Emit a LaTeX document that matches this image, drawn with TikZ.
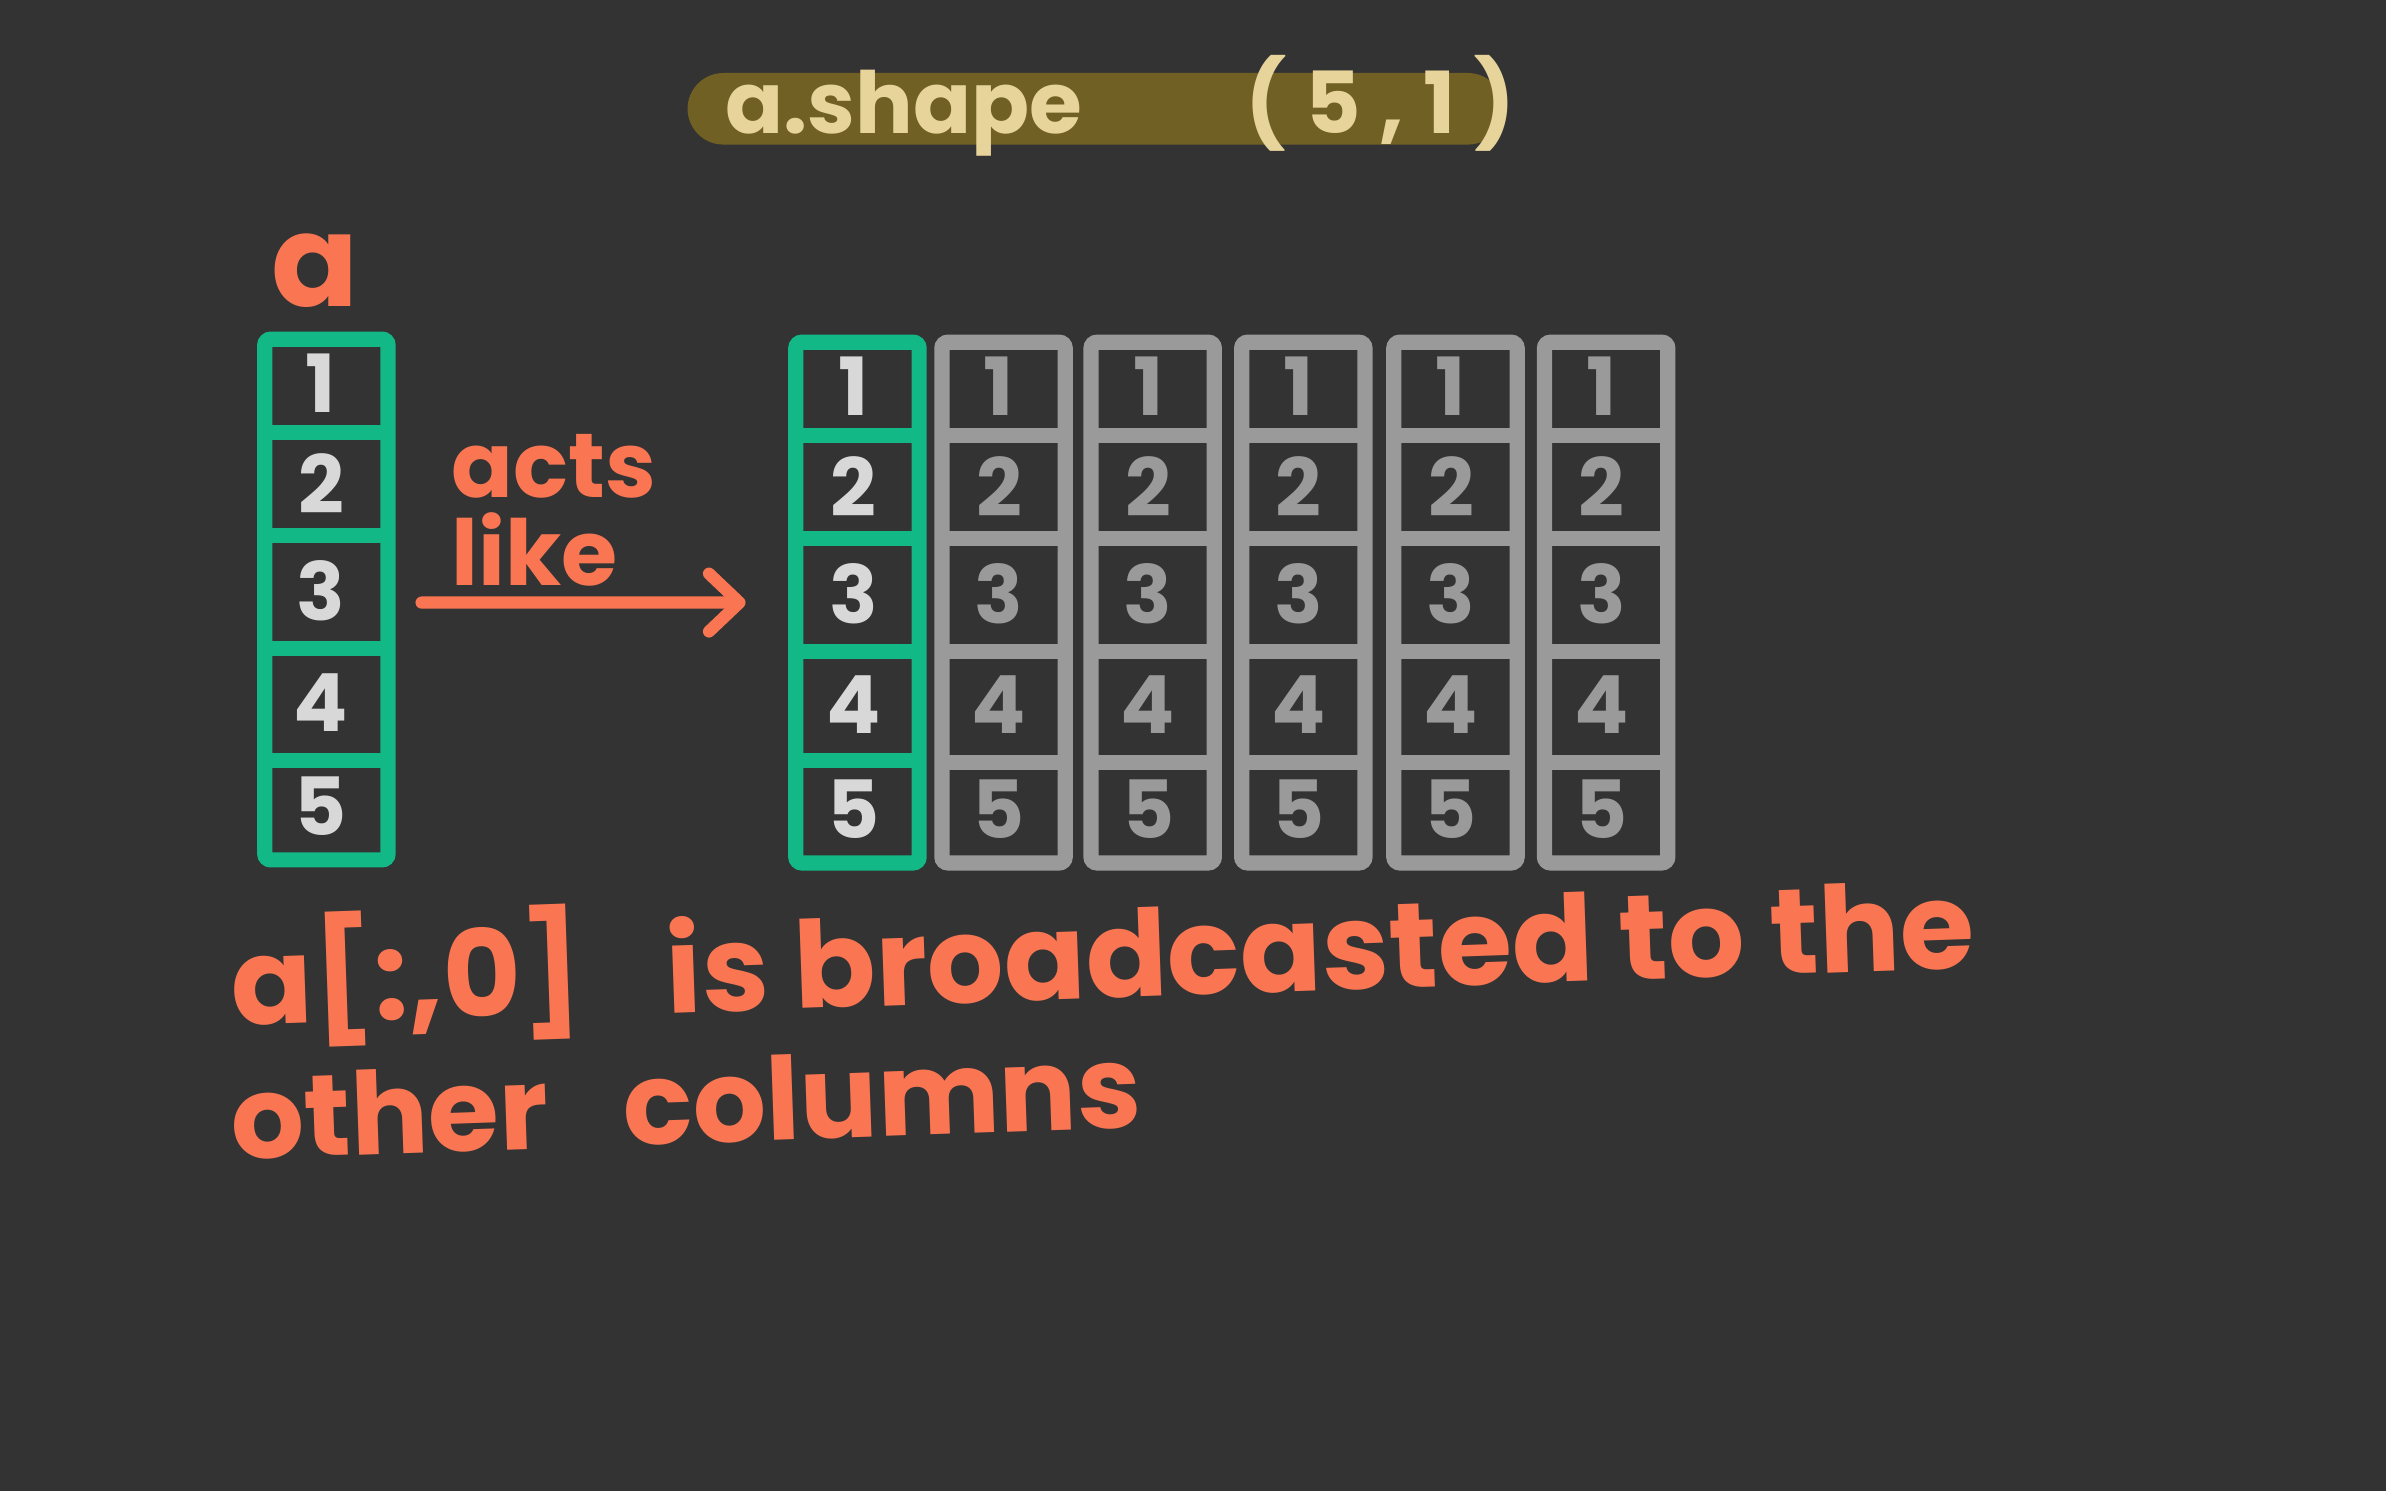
\documentclass[tikz,border=0pt]{standalone}
\usepackage{fontspec}
\setmainfont{Poppins}
\usetikzlibrary{arrows.meta}
\definecolor{bg}{HTML}{333333}
\definecolor{grn}{HTML}{12B886}
\definecolor{org}{HTML}{FA7653}
\definecolor{gry}{HTML}{9A9A9A}
\definecolor{numc}{HTML}{D8D8D8}
\definecolor{barc}{HTML}{716024}
\definecolor{bartext}{HTML}{E6D49A}
\tikzset{
  colbox/.style={draw=#1, line width=0.1cm, rounded corners=0.04cm, minimum width=0.81cm, minimum height=3.42cm, inner sep=0pt},
  divline/.style={draw=#1, line width=0.1cm, line cap=round},
  numtxt/.style={text=#1, font=\fontsize{15}{15}\selectfont\bfseries, inner sep=0pt},
  orgtxt/.style={text=org, font=\fontsize{#1}{#1}\selectfont\bfseries, inner sep=0pt},
  arr/.style={draw=org, line width=0.08cm, line cap=round, -{Straight Barb[length=0.2cm, width=0.38cm, line width=0.08cm, round]}},
}
\begin{document}
\begin{tikzpicture}[x=0.01cm,y=-0.01cm]
\fill[bg] (0,0) rectangle (1568,980);
\useasboundingbox (0,0) rectangle (1568,980);

% title bar
\node[fill=barc, rounded corners=0.235cm, minimum width=5.36cm, minimum height=0.47cm, inner sep=0pt] (bar) at (720,71.5) {};
\node[anchor=base west, text=bartext, font=\fontsize{16}{16}\selectfont\bfseries, inner sep=0pt] (t1) at (476,88) {a.shape};
\node[anchor=base west, text=bartext, font=\fontsize{16}{16}\selectfont\bfseries\addfontfeatures{LetterSpace=22}, inner sep=0pt] (t2) at (818,88) {(5,1)};

% label a
\node[orgtxt=24] (alab) at (207,178) {a};

% left column
\node[colbox=grn] (acol) at (214.5,394) {};
\foreach \yy in {284,352,426,500} \draw[divline=grn] (178,\yy) -- (251,\yy);
\foreach \n/\yy in {1/252,2/318,3/388,4/462,5/530} \node[numtxt=numc] (a\n) at (211,\yy) {\n};

% right columns
\node[colbox=grn] (c0) at (563.5,396) {};
\foreach \yy in {286,354,428,500} \draw[divline=grn] (527,\yy) -- (600,\yy);
\foreach \n/\yy in {1/254,2/320,3/390,4/463,5/532} \node[numtxt=numc] (c0n\n) at (561,\yy) {\n};

\foreach \k/\cx in {1/659.5,2/757.5,3/856.5,4/956.5,5/1055.5} {
  \node[colbox=gry] (c\k) at (\cx,396) {};
  \foreach \yy in {286,354,428,501} \draw[divline=gry] (\cx-37,\yy) -- (\cx+37,\yy);
  \foreach \n/\yy in {1/254,2/320,3/390,4/463,5/532} \node[numtxt=gry] (c\k n\n) at (\cx-3,\yy) {\n};
}

% acts like
\node[orgtxt=17, anchor=base west] (acts) at (296,327) {acts};
\node[orgtxt=17, anchor=base west] (like) at (296,385) {like};
\draw[arr] ([xshift=0.17cm,yshift=-0.02cm]acol.east) -- ([xshift=-0.28cm]c0.west);

% bottom text
\node[orgtxt=22.5, anchor=base west, rotate=2] (l1a) at (152,674) {a[:,0]};
\node[orgtxt=22.5, anchor=base west, rotate=2] (l1b) at (438,666) {is broadcasted to the};
\node[orgtxt=21.5, anchor=base west, rotate=2] (l2a) at (152,762) {other};
\node[orgtxt=21.5, anchor=base west, rotate=2] (l2b) at (410,753) {columns};
\end{tikzpicture}
\end{document}
